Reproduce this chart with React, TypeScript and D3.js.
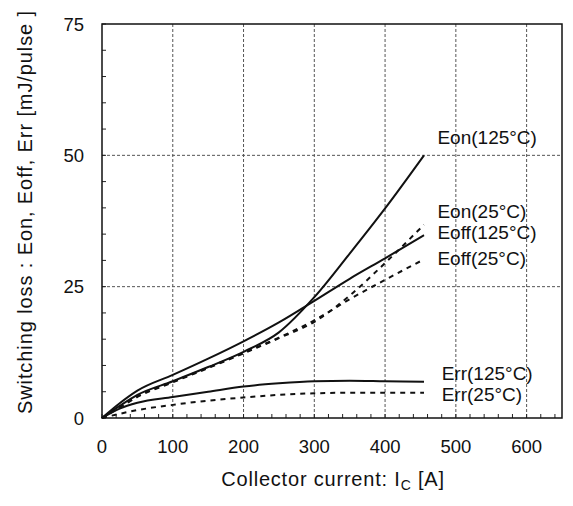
import React from "react";
import * as d3 from "d3";

const currents = [0, 25, 50, 100, 150, 200, 250, 300, 350, 400, 455];
const eon125 = [0, 2.3, 4.4, 7.0, 9.7, 12.6, 16.3, 23.0, 31.3, 39.9, 50.0];
const eon25 = [0, 2.0, 4.0, 6.8, 9.5, 12.3, 15.2, 18.3, 23.3, 29.5, 36.8];
const eoff125 = [0, 2.8, 5.2, 8.2, 11.3, 14.6, 18.2, 22.3, 26.5, 30.4, 34.8];
const eoff25 = [0, 2.1, 4.1, 6.9, 9.6, 12.4, 15.3, 18.6, 22.6, 26.3, 30.2];
const err125 = [0, 1.8, 2.9, 4.0, 5.0, 6.0, 6.6, 7.0, 7.1, 7.0, 6.9];
const err25 = [0, 0.8, 1.5, 2.5, 3.3, 3.9, 4.4, 4.7, 4.8, 4.8, 4.8];

const seriesNames = ["Eon(125°C)", "Eon(25°C)", "Eoff(125°C)", "Eoff(25°C)", "Err(125°C)", "Err(25°C)"];
const seriesValues = [eon125, eon25, eoff125, eoff25, err125, err25];
const seriesDashed = [false, true, false, true, false, true];
// label anchor positions in data units [A, mJ]
const labelX = [474, 474, 474, 474, 480, 480];
const labelY = [52.2, 38.1, 34.1, 29.1, 7.2, 3.2];

const xTicks = [0, 100, 200, 300, 400, 500, 600];
const yTicks = [0, 25, 50, 75];

export default function App() {
  const W = 573, H = 506;
  const left = 102, right = 562, top = 24, bottom = 418;
  const x = d3.scaleLinear().domain([0, 650]).range([left, right]);
  const y = d3.scaleLinear().domain([0, 75]).range([bottom, top]);
  const font = "'Liberation Sans', Arial, sans-serif";

  const line = (vals: number[]) =>
    d3.line<number>()
      .x((_, i) => x(currents[i]))
      .y((v) => y(v))
      .curve(d3.curveMonotoneX)(vals) || "";

  const xMinor = d3.range(0, 651, 20);
  const yMinor = d3.range(0, 76, 5);

  return (
    <svg width={W} height={H} style={{ position: "absolute", left: 0, top: 0, background: "#fff" }}>
      <rect x={0} y={0} width={W} height={H} fill="#fff" />
      {/* grid */}
      {xTicks.filter((t) => t > 0).map((t) => (
        <line key={"gx" + t} x1={x(t)} x2={x(t)} y1={top} y2={bottom} stroke="#555" strokeWidth={1} strokeDasharray="3,2" />
      ))}
      {yTicks.filter((t) => t > 0 && t < 75).map((t) => (
        <line key={"gy" + t} x1={left} x2={right} y1={y(t)} y2={y(t)} stroke="#555" strokeWidth={1} strokeDasharray="3,2" />
      ))}
      {/* minor ticks */}
      {yMinor.map((t) => (
        <line key={"my" + t} x1={left} x2={left + 4} y1={y(t)} y2={y(t)} stroke="#222" strokeWidth={1} />
      ))}
      {xMinor.map((t) => (
        <line key={"mx" + t} x1={x(t)} x2={x(t)} y1={bottom} y2={bottom - 4} stroke="#222" strokeWidth={1} />
      ))}
      {/* frame */}
      <rect x={left} y={top} width={right - left} height={bottom - top} fill="none" stroke="#111" strokeWidth={1.5} />
      {/* curves */}
      {seriesValues.map((vals, i) => (
        <path key={"s" + i} d={line(vals)} fill="none" stroke="#111" strokeWidth={2}
          strokeDasharray={seriesDashed[i] ? "5,5" : undefined} />
      ))}
      {/* curve labels */}
      {seriesNames.map((n, i) => (
        <text key={"l" + i} x={x(labelX[i])} y={y(labelY[i])} fontFamily={font} fontSize={19} fill="#111">{n}</text>
      ))}
      {/* tick labels */}
      {xTicks.map((t) => (
        <text key={"xt" + t} x={x(t)} y={453} textAnchor="middle" fontFamily={font} fontSize={18.5} fill="#111">{t}</text>
      ))}
      {yTicks.map((t) => (
        <text key={"yt" + t} x={84} y={y(t) + 6.5} textAnchor="end" fontFamily={font} fontSize={18.5} fill="#111">{t}</text>
      ))}
      {/* axis titles */}
      <text x={333} y={486} textAnchor="middle" fontFamily={font} fontSize={20} letterSpacing={0.8} fill="#111">
        Collector current: I<tspan fontSize={14} dy={4}>C</tspan><tspan dy={-4}> [A]</tspan>
      </text>
      <text transform={`translate(32,212) rotate(-90)`} textAnchor="middle" fontFamily={font} fontSize={20} letterSpacing={0.9} fill="#111">
        Switching loss : Eon, Eoff, Err  [mJ/pulse ]
      </text>
    </svg>
  );
}
